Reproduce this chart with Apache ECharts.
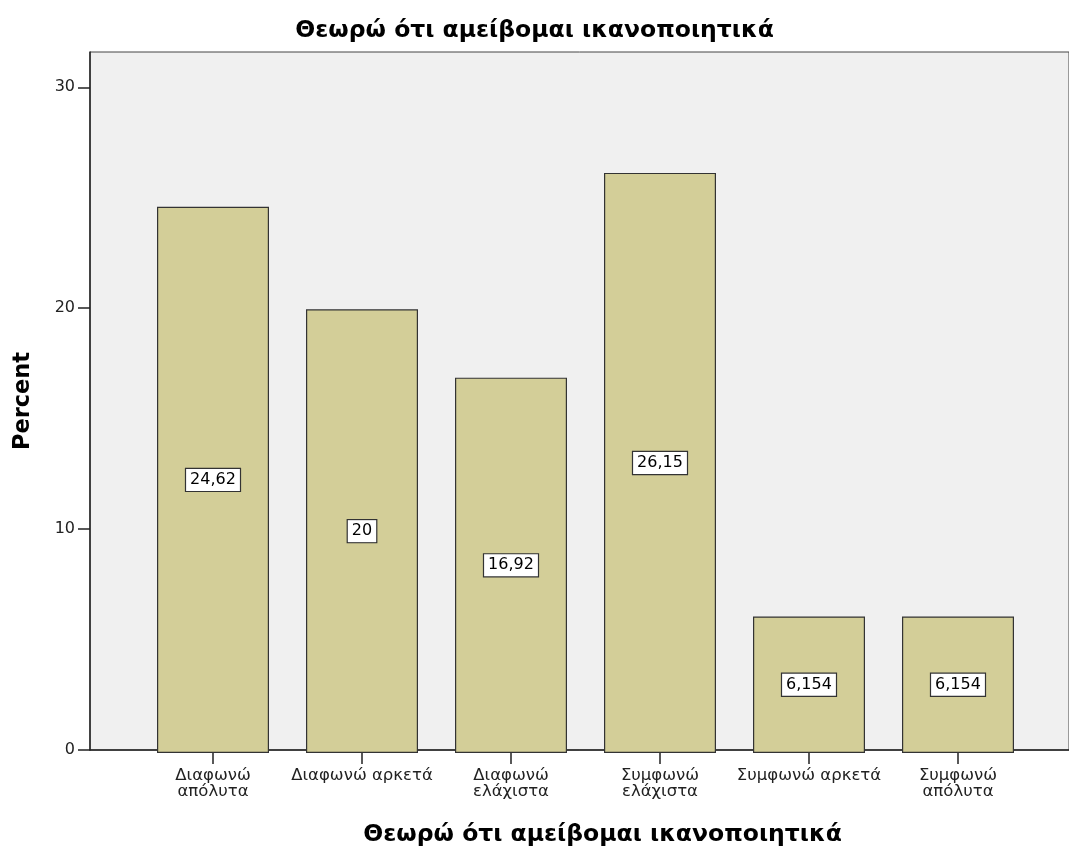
<!DOCTYPE html>
<html>
<head>
<meta charset="utf-8">
<script src="https://cdn.jsdelivr.net/npm/echarts@6/dist/echarts.min.js"></script>
<style>
  html, body { margin: 0; padding: 0; background: #ffffff; }
  #chart { width: 1069px; height: 852px; }
</style>
</head>
<body>
<div id="chart"></div>
<script>
// Response categories and their percentages
const categories = [
  'Διαφωνώ\nαπόλυτα',
  'Διαφωνώ αρκετά',
  'Διαφωνώ\nελάχιστα',
  'Συμφωνώ\nελάχιστα',
  'Συμφωνώ αρκετά',
  'Συμφωνώ\nαπόλυτα'
];
const percents = [24.62, 20, 16.92, 26.15, 6.154, 6.154];
const yTicks = [0, 10, 20, 30];

const titleText = 'Θεωρώ ότι αμείβομαι ικανοποιητικά';
const fontFamily = '"DejaVu Sans", Verdana, sans-serif';

const yMin = 0, yMax = 31.6;
const plotTop = 52, plotBottom = 99;

const chart = echarts.init(document.getElementById('chart'), null, { renderer: 'canvas' });

chart.setOption({
  animation: false,
  backgroundColor: '#ffffff',
  title: {
    text: titleText,
    left: 'center',
    top: 14,
    textStyle: { fontFamily, fontWeight: 'bold', fontSize: 23.5, color: '#000' }
  },
  grid: [
    // background panel with the y axis
    { left: 90, right: -2, top: plotTop, bottom: plotBottom, show: true,
      backgroundColor: '#f0f0f0', borderColor: '#444', borderWidth: 1 },
    // bars sit inside a narrower band of the same panel
    { left: 138.5, right: 36.5, top: plotTop, bottom: plotBottom }
  ],
  xAxis: [
    { gridIndex: 0, type: 'value', min: 0, max: 1,
      axisLine: { show: true, lineStyle: { color: '#222', width: 1.5 } },
      axisTick: { show: false }, axisLabel: { show: false }, splitLine: { show: false },
      name: titleText, nameLocation: 'middle', nameGap: 73,
      nameTextStyle: { fontFamily, fontWeight: 'bold', fontSize: 23.5, color: '#000',
        padding: [0, 0, 0, 46] } },
    { gridIndex: 1, type: 'category', data: categories,
      axisLine: { show: false },
      axisTick: { show: true, alignWithLabel: true, length: 11, lineStyle: { color: '#222', width: 1.5 } },
      axisLabel: { fontFamily, fontSize: 16.5, color: '#222', lineHeight: 16, margin: 15, interval: 0 } }
  ],
  yAxis: [
    { gridIndex: 0, type: 'value', min: yMin, max: yMax,
      interval: 10,
      axisLine: { show: true, lineStyle: { color: '#222', width: 1.5 } },
      axisTick: { show: true, length: 12, lineStyle: { color: '#222', width: 1.5 },
        customValues: yTicks },
      axisLabel: { fontFamily, fontSize: 16, color: '#222', margin: 15,
        customValues: yTicks },
      splitLine: { show: false },
      name: 'Percent', nameLocation: 'middle', nameGap: 55, nameRotate: 90,
      nameTextStyle: { fontFamily, fontWeight: 'bold', fontSize: 22.5, color: '#000' } },
    { gridIndex: 1, type: 'value', min: yMin, max: yMax, show: false }
  ],
  series: [
    {
      type: 'bar',
      xAxisIndex: 1, yAxisIndex: 1,
      data: percents,
      barWidth: 112,
      itemStyle: { color: '#d3ce98', borderColor: '#333', borderWidth: 1.2 },
      label: {
        show: true,
        position: 'inside',
        formatter: p => String(p.value).replace('.', ','),
        fontFamily, fontSize: 16, color: '#000',
        backgroundColor: '#ffffff', borderColor: '#333', borderWidth: 1.2,
        padding: [4, 4, 2, 4]
      }
    }
  ]
});
</script>
</body>
</html>
